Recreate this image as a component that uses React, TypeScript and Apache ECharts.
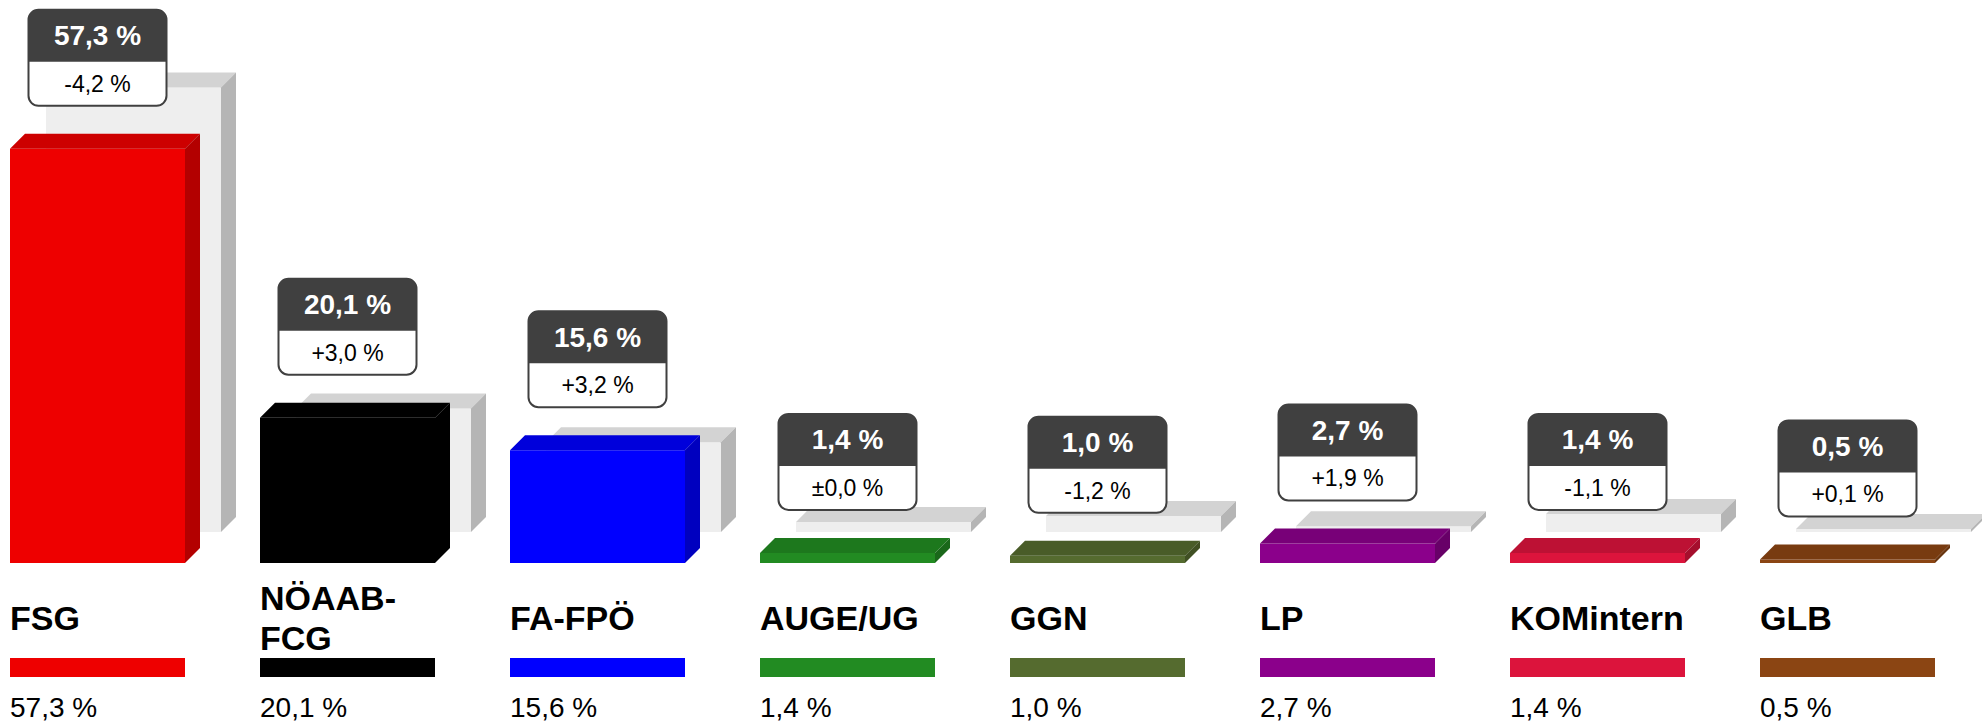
import React, { useEffect, useRef } from "react";
import * as echarts from "echarts";

const parties = ["FSG", "NÖAAB-\nFCG", "FA-FPÖ", "AUGE/UG", "GGN", "LP", "KOMintern", "GLB"];
const results = [57.3, 20.1, 15.6, 1.4, 1.0, 2.7, 1.4, 0.5];
const changes = [-4.2, 3.0, 3.2, 0.0, -1.2, 1.9, -1.1, 0.1];
const colors = ["#ee0000", "#000000", "#0000ff", "#228b22", "#556b2f", "#8b008b", "#dc143c", "#8b4513"];

const FONT = "'Liberation Sans', Arial, Helvetica, sans-serif";

function shade(hex: string, f: number): string {
  const n = parseInt(hex.slice(1), 16);
  const r = Math.round(((n >> 16) & 255) * f);
  const g = Math.round(((n >> 8) & 255) * f);
  const b = Math.round((n & 255) * f);
  return "rgb(" + r + "," + g + "," + b + ")";
}

function fmt(v: number): string {
  return v.toFixed(1).replace(".", ",") + " %";
}
function fmtChange(v: number): string {
  const s = Math.abs(v).toFixed(1).replace(".", ",") + " %";
  if (v > 0) return "+" + s;
  if (v < 0) return "-" + s;
  return "±" + s;
}

function box3d(x0: number, yt: number, yb: number, W: number, D: number, front: string, top: string, side: string) {
  return [
    { type: "rect", shape: { x: x0, y: yt, width: W, height: yb - yt }, style: { fill: front } },
    {
      type: "polygon",
      shape: { points: [[x0, yt], [x0 + D, yt - D], [x0 + W + D, yt - D], [x0 + W, yt]] },
      style: { fill: top },
    },
    {
      type: "polygon",
      shape: { points: [[x0 + W, yt], [x0 + W + D, yt - D], [x0 + W + D, yb - D], [x0 + W, yb]] },
      style: { fill: side },
    },
  ];
}

export default function App() {
  const ref = useRef<HTMLDivElement>(null);
  useEffect(() => {
    if (!ref.current) return;
    const chart = echarts.init(ref.current, undefined, { renderer: "svg" });
    const data = parties.map((p, i) => [i, results[i], +(results[i] - changes[i]).toFixed(1)]);
    const W = 175;
    const D = 15;
    const renderItem = (params: any, api: any) => {
      const i = api.value(0);
      const cur = api.value(1);
      const prev = api.value(2);
      const base = api.coord([i, 0]);
      const topPt = api.coord([i, cur]);
      const prevPt = api.coord([i, prev]);
      const cx = base[0];
      const x0 = cx - 115;
      const yb = base[1];
      const yt = topPt[1];
      const col = colors[i];
      const children: any[] = [];
      // previous result (shadow bar)
      children.push(...box3d(x0 + 36, prevPt[1] - 31, yb - 31, W, D, "#eeeeee", "#d3d3d3", "#b5b5b5"));
      // current result
      children.push(...box3d(x0, yt, yb, W, D, col, shade(col, 0.86), shade(col, 0.75)));
      // label box
      const bw = 138;
      const bh = 96;
      const bx = x0 + W / 2 - bw / 2;
      const by = yt - 43 - bh;
      children.push({
        type: "rect",
        shape: { x: bx, y: by, width: bw, height: bh, r: 10 },
        style: { fill: "#ffffff", stroke: "#404040", lineWidth: 2 },
      });
      children.push({
        type: "rect",
        shape: { x: bx, y: by, width: bw, height: 52, r: [10, 10, 0, 0] },
        style: { fill: "#404040" },
      });
      children.push({
        type: "text",
        style: {
          text: fmt(cur), x: bx + bw / 2, y: by + 26, align: "center", verticalAlign: "middle",
          fill: "#ffffff", fontSize: 28, fontWeight: "bold", fontFamily: FONT,
        },
      });
      children.push({
        type: "text",
        style: {
          text: fmtChange(changes[i]), x: bx + bw / 2, y: by + 74, align: "center", verticalAlign: "middle",
          fill: "#000000", fontSize: 23, fontFamily: FONT,
        },
      });
      // legend below
      children.push({
        type: "text",
        style: {
          text: parties[i], x: x0, y: yb + 55, align: "left", verticalAlign: "middle",
          fill: "#000000", fontSize: 34, fontWeight: "bold", fontFamily: FONT, lineHeight: 40,
        },
      });
      children.push({
        type: "rect",
        shape: { x: x0, y: yb + 95, width: W, height: 19 },
        style: { fill: col },
      });
      children.push({
        type: "text",
        style: {
          text: fmt(cur), x: x0, y: yb + 144, align: "left", verticalAlign: "middle",
          fill: "#000000", fontSize: 28, fontFamily: FONT,
        },
      });
      return { type: "group", children };
    };
    chart.setOption({
      animation: false,
      grid: { left: 0, width: 2000, top: 57, height: 506, outerBoundsMode: "none", containLabel: false },
      xAxis: { type: "category", data: parties, show: false },
      yAxis: { type: "value", min: 0, max: 70, show: false },
      series: [
        {
          type: "custom",
          renderItem,
          data,
          clip: false,
          encode: { x: 0, y: 1 },
        },
      ],
    });
    return () => chart.dispose();
  }, []);
  return (
    <div
      ref={ref}
      style={{ position: "fixed", left: 0, top: 0, width: 1982, height: 721, background: "#ffffff" }}
    />
  );
}
